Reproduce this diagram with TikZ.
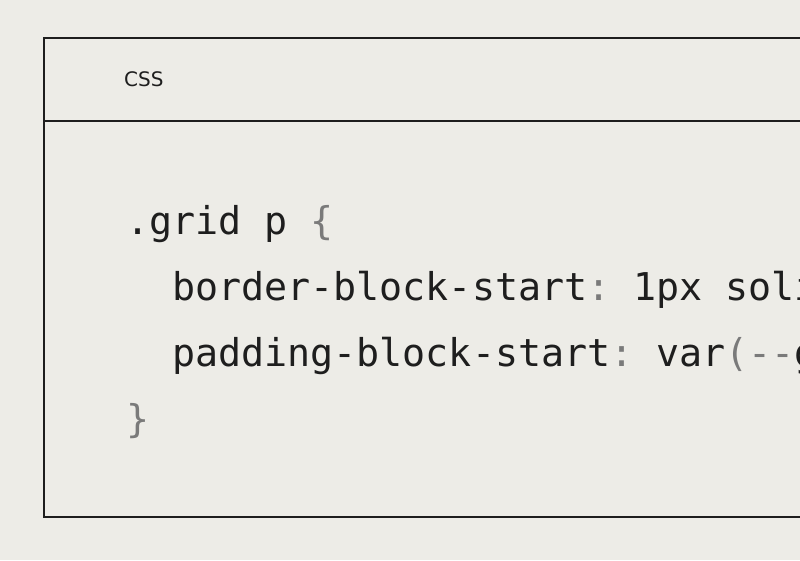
\documentclass[tikz,border=0pt]{standalone}
\usepackage{fontspec}
\setmonofont{DejaVu Sans Mono}
\setsansfont{DejaVu Sans}
\definecolor{bg}{HTML}{EDECE7}
\definecolor{ink}{HTML}{1E1E1E}
\definecolor{punct}{HTML}{7A7A7A}
\begin{document}
\begin{tikzpicture}[x=1pt,y=-1pt,
  code/.style={anchor=base west,inner sep=0pt,font=\ttfamily\fontsize{38.3}{40}\selectfont,text=ink},
  lbl/.style={anchor=base west,inner sep=0pt,font=\sffamily\fontsize{20}{22}\selectfont,text=ink}]
\useasboundingbox (0,0) rectangle (800,560);
\fill[bg] (0,0) rectangle (800,560);
\clip (0,0) rectangle (800,560);
\draw[ink,line width=1.2pt] (44,38) rectangle (830,517);
\draw[ink,line width=1.2pt] (44,121) -- (830,121);
\node[lbl] (t) at (124,86) {CSS};
\node[code] (l1) at (126,234) {.grid p \textcolor{punct}{\{}};
\node[code] (l2) at (126,300) {\ \ border-block-start\textcolor{punct}{:} 1px solid};
\node[code] (l3) at (126,366) {\ \ padding-block-start\textcolor{punct}{:} var\textcolor{punct}{(--}gap\textcolor{punct}{)}};
\node[code] (l4) at (126,432) {\textcolor{punct}{\}}};
\end{tikzpicture}
\end{document}
